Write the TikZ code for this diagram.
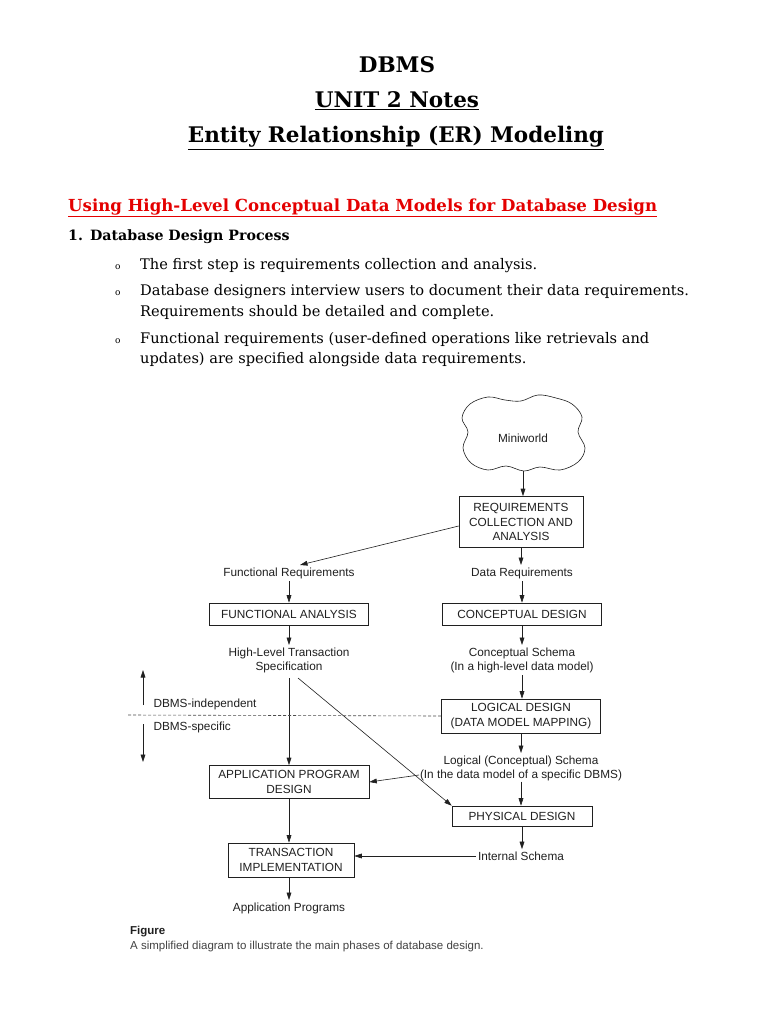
\documentclass[tikz,border=0pt]{standalone}
\usepackage{fontspec}
\setmainfont{DejaVu Serif}
\newfontfamily\dsans{Liberation Sans}
\usetikzlibrary{arrows.meta}
\definecolor{hred}{RGB}{228,0,0}
\definecolor{ink}{RGB}{32,32,32}
\begin{document}
\begin{tikzpicture}[x=1pt,y=-1pt,
  title/.style={font=\bfseries\fontsize{21.5}{24}\selectfont, inner sep=0pt},
  body/.style={font=\fontsize{14.6}{17}\selectfont, inner sep=0pt, anchor=base west},
  bul/.style={font=\fontsize{9}{10}\selectfont, inner sep=0pt, anchor=base west},
  lbl/.style={font=\dsans\fontsize{11.8}{14}\selectfont, text=ink, inner sep=0.5pt, outer sep=2pt, align=center},
  box/.style={draw=ink, line width=0.6pt, font=\dsans\fontsize{11.8}{14.5}\selectfont, text=ink, align=center, inner sep=0pt},
  arr/.style={draw=ink, line width=0.6pt, -{Triangle[length=7.5pt,width=4.8pt]}},
]
\useasboundingbox[fill=white] (0,0) rectangle (768,1024);

% ---- page header ----
\node[title] (t1) at (397,65) {DBMS};
\node[title] (t2) at (397,101) {\underline{UNIT 2 Notes}};
\node[title] (t3) at (396,138) {\underline{Entity Relationship (ER) Modeling}};
\node[font=\bfseries\fontsize{16.6}{19}\selectfont, text=hred, inner sep=0pt, anchor=west] (h1) at (68,208) {\underline{Using High-Level Conceptual Data Models for Database Design}};
\node[font=\bfseries\fontsize{14.2}{16}\selectfont, inner sep=0pt, anchor=west] (h2) at (68,237) {1.\enspace Database Design Process};

\node[bul] (b1) at (115,269) {o};
\node[body] (l1) at (140,269) {The first step is requirements collection and analysis.};
\node[bul] (b2) at (115,295) {o};
\node[body] (l2) at (140,295) {Database designers interview users to document their data requirements.};
\node[body] (l3) at (140,316) {Requirements should be detailed and complete.};
\node[bul] (b3) at (115,343) {o};
\node[body] (l4) at (140,343) {Functional requirements (user-defined operations like retrievals and};
\node[body] (l5) at (140,363) {updates) are specified alongside data requirements.};

% ---- diagram ----
\draw[ink, line width=0.6pt] plot[smooth cycle, tension=0.6] coordinates {
 (470,404) (488,397) (505,400) (521,401) (538,395) (556,398) (572,404)
 (582,417) (578,432) (585,448) (578,462) (560,470) (540,467) (524,471)
 (506,466) (488,470) (471,463) (463,448) (468,432) (462,418)};
\node[lbl] (mw) at (523,438) {Miniworld};
\coordinate (cb) at (523,471);

\node[box, minimum width=124pt, minimum height=51pt] (req) at (521,522) {REQUIREMENTS\\COLLECTION AND\\ANALYSIS};
\node[lbl] (fr) at (289,573) {Functional Requirements};
\node[lbl] (dr) at (522,573) {Data Requirements};
\node[box, minimum width=159pt, minimum height=22pt] (fa) at (289,614) {FUNCTIONAL ANALYSIS};
\node[box, minimum width=159pt, minimum height=22pt] (cd) at (522,614) {CONCEPTUAL DESIGN};
\node[lbl] (hlt) at (289,660) {High-Level Transaction\\Specification};
\node[lbl] (cs) at (522,660) {Conceptual Schema\\(In a high-level data model)};
\node[box, minimum width=159pt, minimum height=34pt] (ld) at (521,716) {LOGICAL DESIGN\\(DATA MODEL MAPPING)};
\node[lbl] (lcsa) at (521,761) {Logical (Conceptual) Schema};
\node[lbl, outer sep=0.5pt] (lcsb) at (521,775) {(In the data model of a specific DBMS)};
\node[box, minimum width=160pt, minimum height=33pt] (apd) at (289,782) {APPLICATION PROGRAM\\DESIGN};
\node[box, minimum width=140pt, minimum height=20pt] (pd) at (522,816) {PHYSICAL DESIGN};
\node[lbl] (is) at (521,856) {Internal Schema};
\node[box, minimum width=126pt, minimum height=34pt] (ti) at (291,860) {TRANSACTION\\IMPLEMENTATION};
\node[lbl] (ap) at (289,908) {Application Programs};

\node[lbl, anchor=west] (ind) at (151,704) {DBMS-independent};
\node[lbl, anchor=west] (spc) at (151,727) {DBMS-specific};
\coordinate (ua) at (143,705);
\coordinate (ub) at (143,670);
\coordinate (da) at (143,724);
\coordinate (db) at (143,762);
\coordinate (dl) at (128,715);

\node[font=\dsans\bfseries\fontsize{11.5}{13}\selectfont, inner sep=0pt, anchor=west, text=ink] (fig) at (130,932) {Figure};
\node[font=\dsans\fontsize{11.5}{13}\selectfont, inner sep=0pt, anchor=west, text=ink!85] (cap) at (130,947) {A simplified diagram to illustrate the main phases of database design.};

% connectors
\draw[arr] (cb) -- (cb |- req.north);
\draw[arr] ([yshift=-4pt]req.west) -- ([xshift=11pt]fr.north);
\draw[arr] (req.south) -- (req.south |- dr.north);
\draw[arr] (fr.south) -- (fa.north);
\draw[arr] (dr.south) -- (dr.south |- cd.north);
\draw[arr] (fa.south) -- (hlt.north);
\draw[arr] (cd.south) -- (cs.north);
\draw[arr] (cs.south) -- (cs.south |- ld.north);
\draw[arr] ([yshift=-3pt]hlt.south) -- (apd.north);
\draw[arr] ([xshift=9pt,yshift=-3pt]hlt.south) -- (pd.north west);
\draw[arr] (ld.south) -- (ld.south |- lcsa.north);
\draw[arr] (lcsb.west) -- (apd.east);
\draw[arr] (lcsb.south) -- (lcsb.south |- pd.north);
\draw[arr] (pd.south) -- (pd.south |- is.north);
\draw[arr] (is.west) -- (is.west -| ti.east);
\draw[arr] (apd.south) -- (apd.south |- ti.north);
\draw[arr] (ti.south -| apd.south) -- (ap.north -| apd.south);
\draw[arr] (ua) -- (ub);
\draw[arr] (da) -- (db);
\draw[ink!80, line width=0.6pt, dash pattern=on 3pt off 2pt] (dl) -- (ld.west);
\end{tikzpicture}
\end{document}
